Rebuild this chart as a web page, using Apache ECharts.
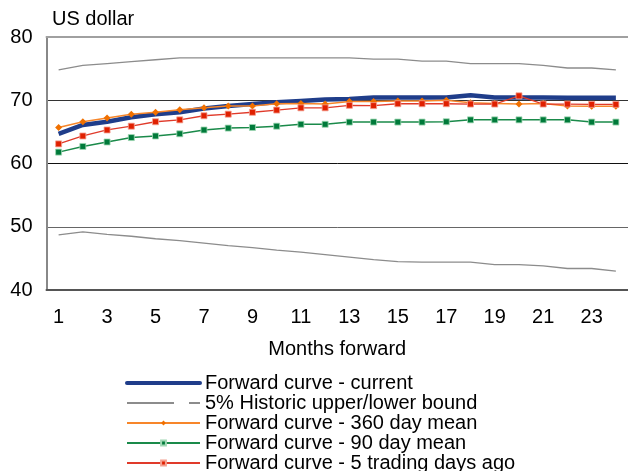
<!DOCTYPE html>
<html>
<head>
<meta charset="utf-8">
<script src="https://cdn.jsdelivr.net/npm/echarts@6/dist/echarts.min.js"></script>
<style>
  html, body { margin: 0; padding: 0; background: #fff; }
  #chart { width: 628px; height: 471px; }
</style>
</head>
<body>
<div id="chart"></div>
<script>
// Months ahead on the forward curve
const months = ['1','2','3','4','5','6','7','8','9','10','11','12','13','14','15','16','17','18','19','20','21','22','23','24'];

// US dollar prices for each curve
const curveCurrent = [64.7, 66.1, 66.6, 67.3, 67.8, 68.1, 68.7, 69.1, 69.4, 69.7, 69.9, 70.1, 70.2, 70.45, 70.45, 70.45, 70.45, 70.8, 70.45, 70.45, 70.45, 70.4, 70.4, 70.4];
const upperBound = [74.8, 75.5, 75.8, 76.1, 76.4, 76.7, 76.7, 76.7, 76.7, 76.7, 76.7, 76.7, 76.7, 76.5, 76.5, 76.2, 76.2, 75.8, 75.8, 75.8, 75.5, 75.1, 75.1, 74.8];
const lowerBound = [48.7, 49.2, 48.8, 48.5, 48.1, 47.8, 47.4, 47.0, 46.7, 46.3, 46.0, 45.6, 45.2, 44.8, 44.5, 44.4, 44.4, 44.4, 44.0, 44.0, 43.8, 43.4, 43.4, 43.0];
const mean360 = [65.7, 66.6, 67.2, 67.8, 68.1, 68.5, 68.8, 69.1, 69.1, 69.45, 69.5, 69.4, 69.8, 69.8, 69.9, 69.9, 70.0, 69.6, 69.5, 69.4, 69.5, 69.1, 69.05, 69.05];
const mean90 = [61.8, 62.7, 63.4, 64.1, 64.35, 64.7, 65.3, 65.6, 65.7, 65.9, 66.2, 66.2, 66.55, 66.55, 66.55, 66.55, 66.6, 66.9, 66.9, 66.9, 66.9, 66.9, 66.55, 66.55];
const fiveDaysAgo = [63.1, 64.35, 65.3, 65.9, 66.6, 66.9, 67.55, 67.8, 68.1, 68.45, 68.8, 68.8, 69.2, 69.15, 69.45, 69.45, 69.45, 69.4, 69.4, 70.7, 69.4, 69.4, 69.35, 69.35];

const yTicks = { min: 40, max: 80, step: 10 };

const names = {
  current: 'Forward curve - current',
  bound: '5% Historic upper/lower bound',
  m360: 'Forward curve - 360 day mean',
  m90: 'Forward curve - 90 day mean',
  d5: 'Forward curve - 5 trading days ago'
};

const FONT = '"Liberation Sans", Arial, sans-serif';

const chart = echarts.init(document.getElementById('chart'), null, { renderer: 'canvas' });

chart.setOption({
  animation: false,
  backgroundColor: '#ffffff',
  textStyle: { fontFamily: FONT, color: '#000' },
  title: {
    text: 'US dollar',
    left: 52,
    top: 9,
    padding: 0,
    textStyle: { fontFamily: FONT, fontSize: 20, fontWeight: 'normal', color: '#000' }
  },
  grid: { left: 46.5, top: 37, width: 588, height: 253, containLabel: false },
  legend: {
    orient: 'vertical',
    left: 125,
    top: 373,
    height: 110,
    padding: 0,
    itemWidth: 73,
    itemHeight: 6,
    itemGap: 0,
    textStyle: { fontFamily: FONT, fontSize: 20, lineHeight: 19.6, color: '#000' },
    data: [
      { name: names.current, itemStyle: { opacity: 0 }, lineStyle: { width: 4, cap: 'round' } },
      { name: names.bound, itemStyle: { opacity: 0 }, lineStyle: { type: [47, 15] } },
      { name: names.m360 },
      { name: names.m90 },
      { name: names.d5 }
    ]
  },
  xAxis: [
    {
      type: 'category',
      data: months,
      boundaryGap: true,
      position: 'bottom',
      name: 'Months forward',
      nameLocation: 'middle',
      nameGap: 49,
      nameTextStyle: { fontFamily: FONT, fontSize: 20, color: '#000' },
      axisLine: { show: true, lineStyle: { color: '#555', width: 2 } },
      axisTick: { show: false },
      axisLabel: { interval: 1, margin: 17, fontFamily: FONT, fontSize: 20, color: '#000' },
      splitLine: { show: false }
    },
    {
      type: 'category',
      data: months,
      position: 'top',
      axisLine: { show: true, lineStyle: { color: '#a0a0a0', width: 2 } },
      axisTick: { show: false },
      axisLabel: { show: false },
      splitLine: { show: false }
    }
  ],
  yAxis: {
    type: 'value',
    min: yTicks.min,
    max: yTicks.max,
    interval: yTicks.step,
    axisLine: { show: true, lineStyle: { color: '#888', width: 2 } },
    axisTick: { show: false },
    axisLabel: { margin: 14, fontFamily: FONT, fontSize: 20, color: '#000' },
    splitLine: { show: true, lineStyle: { color: ['#555', '#666', '#111', '#333', '#a0a0a0'], width: 1 } }
  },
  series: [
    {
      name: names.bound,
      type: 'line',
      data: upperBound,
      symbol: 'none',
      lineStyle: { color: '#8c8c8c', width: 1.3 },
      itemStyle: { color: '#8c8c8c' },
      z: 2
    },
    {
      name: names.bound,
      type: 'line',
      data: lowerBound,
      symbol: 'none',
      lineStyle: { color: '#8c8c8c', width: 1.3 },
      itemStyle: { color: '#8c8c8c' },
      z: 2
    },
    {
      name: names.current,
      type: 'line',
      data: curveCurrent,
      symbol: 'none',
      lineStyle: { color: '#1f3d8a', width: 4.5 },
      itemStyle: { color: '#1f3d8a' },
      z: 3
    },
    {
      name: names.m360,
      type: 'line',
      data: mean360,
      symbol: 'diamond',
      symbolSize: 7,
      lineStyle: { color: '#f7862a', width: 1.5 },
      itemStyle: { color: '#f07000' },
      z: 4
    },
    {
      name: names.m90,
      type: 'line',
      data: mean90,
      symbol: 'rect',
      symbolSize: 6,
      lineStyle: { color: '#1a8a4a', width: 1.5 },
      itemStyle: { color: '#007a3a', borderColor: '#9fd8b4', borderWidth: 0.8 },
      z: 5
    },
    {
      name: names.d5,
      type: 'line',
      data: fiveDaysAgo,
      symbol: 'rect',
      symbolSize: 6,
      lineStyle: { color: '#e03a2a', width: 1.3 },
      itemStyle: { color: '#e02000', borderColor: '#f4a090', borderWidth: 0.8 },
      z: 6
    }
  ]
});
</script>
</body>
</html>
